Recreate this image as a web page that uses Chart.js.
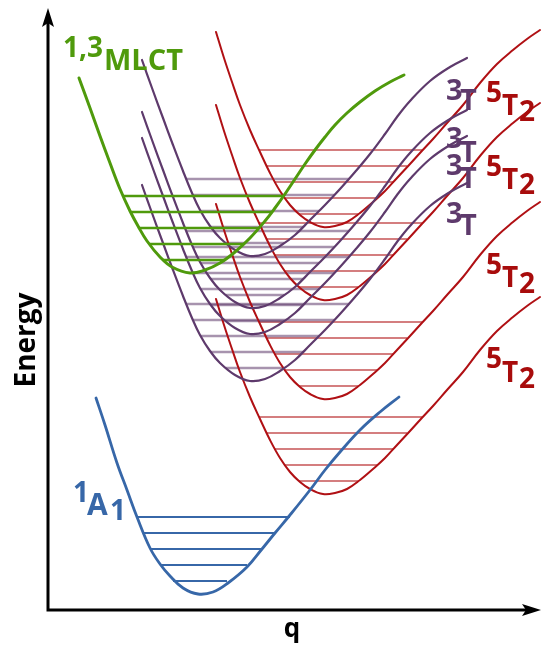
<!DOCTYPE html>
<html>
<head>
<meta charset="utf-8">
<script src="https://cdn.jsdelivr.net/npm/chart.js@4.4.1/dist/chart.umd.min.js"></script>
<style>
  html, body { margin: 0; padding: 0; background: #ffffff; }
  canvas { display: block; }
</style>
</head>
<body>
<canvas id="pes" width="541" height="645"></canvas>
<script>
// Potential energy curves along the coordinate q (arbitrary units).

// Ground state 1A1
const groundQ = [48, 57, 69, 79, 89, 102, 112, 122, 135, 150, 165, 180, 199, 214, 227, 242, 262, 277, 292, 312, 332, 351];
const groundE = [212, 185, 147, 120, 93, 62, 46, 34, 22, 16, 18, 27, 43, 61, 77, 95, 120, 140, 158, 180, 198, 213];
const groundLevelE = [93, 77, 61, 45, 29];
const groundLevelFrom = [89, 95, 102, 112, 125];
const groundLevelTo = [242, 227, 214, 199, 179];

// 1,3MLCT
const mlctQ = [31, 42, 52, 62, 72, 82, 90, 99, 112, 124, 142, 157, 172, 187, 202, 217, 227, 237, 247, 257, 267, 277, 287, 299, 312, 327, 342, 356];
const mlctE = [532, 502, 474, 447, 421, 399, 384, 369, 353, 343, 337, 340, 347, 358, 372, 389, 402, 416, 431, 446, 460, 473, 485, 497, 508, 519, 528, 535];
const mlctLevelE = [414, 398, 382, 366, 350];
const mlctLevelFrom = [75, 83, 91, 101, 115];
const mlctLevelTo = [235, 224, 211, 196, 176];

// 3T states
const tripletQ = [94, 104, 115, 125, 135, 144, 152, 162, 172, 187, 202, 217, 232, 247, 262, 277, 292, 307, 322, 337, 349, 362, 382, 402, 419];
const triplet1E = [550, 522, 492, 465, 439, 417, 400, 384, 372, 360, 354, 356, 364, 375, 390, 405, 421, 438, 456, 476, 493, 509, 529, 543, 552];
const triplet2E = [498, 470, 440, 413, 387, 365, 348, 332, 320, 308, 302, 304, 312, 323, 338, 353, 369, 386, 404, 424, 441, 457, 477, 491, 500];
const triplet3E = [472, 444, 414, 387, 361, 339, 322, 306, 294, 282, 276, 278, 286, 297, 312, 327, 343, 360, 378, 398, 415, 431, 451, 465, 474];
const triplet4E = [425, 397, 367, 340, 314, 292, 275, 259, 247, 235, 229, 231, 239, 250, 265, 280, 296, 313, 331, 351, 368, 384, 404, 418, 427];
const tripletLevelFrom = [138, 145, 153, 163, 178];
const tripletLevelTo = [301, 286, 271, 255, 236];
const triplet1LevelE = [431, 415, 399, 383, 367];
const triplet2LevelE = [379, 363, 347, 331, 315];
const triplet3LevelE = [353, 337, 321, 305, 289];
const triplet4LevelE = [306, 290, 274, 258, 242];

// 5T2 states
const quintetQ = [168, 176, 184, 192, 202, 212, 222, 232, 242, 252, 262, 275, 287, 299, 312, 325, 337, 349, 362, 372, 385, 399, 415, 432, 449, 465, 479, 492];
const quintet1E = [578, 552, 528, 505, 480, 458, 437, 419, 405, 395, 388, 383, 384, 388, 397, 408, 419, 432, 446, 457, 471, 487, 505, 527, 546, 560, 571, 580];
const quintet2E = [505, 479, 455, 432, 407, 385, 364, 346, 332, 322, 315, 310, 311, 315, 324, 335, 346, 359, 373, 384, 398, 414, 432, 454, 473, 487, 498, 507];
const quintet3E = [406, 380, 356, 333, 308, 286, 265, 247, 233, 223, 216, 211, 212, 216, 225, 236, 247, 260, 274, 285, 299, 315, 333, 355, 374, 388, 399, 408];
const quintet4E = [311, 285, 261, 238, 213, 191, 170, 152, 138, 128, 121, 116, 117, 121, 130, 141, 152, 165, 179, 190, 204, 220, 238, 260, 279, 293, 304, 313];
const quintetLevelFrom = [211, 218, 227, 236, 251];
const quintetLevelTo = [374, 359, 345, 329, 311];
const quintet1LevelE = [460, 444, 428, 412, 396];
const quintet2LevelE = [387, 371, 355, 339, 323];
const quintet3LevelE = [288, 272, 256, 240, 224];
const quintet4LevelE = [193, 177, 161, 145, 129];

const BLUE = '#3767a8';
const GREEN = '#4f9a0c';
const RED = '#b01014';
const PURPLE = '#5e3a6c';
const RED_TEXT = '#a80c0c';

function points(qs, es) {
  return qs.map((q, i) => ({ x: q, y: es[i] }));
}

function curve(label, qs, es, color, width, order) {
  return {
    label, data: points(qs, es), borderColor: color, borderWidth: width,
    pointRadius: 0, fill: false, tension: 0.4,
    borderCapStyle: 'round', borderJoinStyle: 'round',
    order, clip: false
  };
}

function levels(label, energies, from, to, color, width, order) {
  return energies.map((e, i) => ({
    label: label + ' v' + i,
    data: [{ x: from[i], y: e }, { x: to[i], y: e }],
    borderColor: color, borderWidth: width, pointRadius: 0,
    fill: false, order, borderCapStyle: 'butt'
  }));
}

const QUINTET_LEVEL = 'rgba(176,16,20,0.72)';
const TRIPLET_LEVEL = 'rgba(94,58,108,0.55)';

const datasets = [
  ...levels('5T2 (1)', quintet1LevelE, quintetLevelFrom, quintetLevelTo, QUINTET_LEVEL, 1.5, 8),
  ...levels('5T2 (2)', quintet2LevelE, quintetLevelFrom, quintetLevelTo, QUINTET_LEVEL, 1.5, 8),
  ...levels('5T2 (3)', quintet3LevelE, quintetLevelFrom, quintetLevelTo, QUINTET_LEVEL, 1.5, 8),
  ...levels('5T2 (4)', quintet4LevelE, quintetLevelFrom, quintetLevelTo, QUINTET_LEVEL, 1.5, 8),
  ...levels('3T (1)', triplet1LevelE, tripletLevelFrom, tripletLevelTo, TRIPLET_LEVEL, 2.5, 7),
  ...levels('3T (2)', triplet2LevelE, tripletLevelFrom, tripletLevelTo, TRIPLET_LEVEL, 2.5, 7),
  ...levels('3T (3)', triplet3LevelE, tripletLevelFrom, tripletLevelTo, TRIPLET_LEVEL, 2.5, 7),
  ...levels('3T (4)', triplet4LevelE, tripletLevelFrom, tripletLevelTo, TRIPLET_LEVEL, 2.5, 7),
  curve('5T2 (1)', quintetQ, quintet1E, RED, 2, 6),
  curve('5T2 (2)', quintetQ, quintet2E, RED, 2, 6),
  curve('5T2 (3)', quintetQ, quintet3E, RED, 2, 6),
  curve('5T2 (4)', quintetQ, quintet4E, RED, 2, 6),
  curve('3T (1)', tripletQ, triplet1E, PURPLE, 2.2, 5),
  curve('3T (2)', tripletQ, triplet2E, PURPLE, 2.2, 5),
  curve('3T (3)', tripletQ, triplet3E, PURPLE, 2.2, 5),
  curve('3T (4)', tripletQ, triplet4E, PURPLE, 2.2, 5),
  ...levels('1,3MLCT', mlctLevelE, mlctLevelFrom, mlctLevelTo, GREEN, 2.5, 3),
  curve('1,3MLCT', mlctQ, mlctE, GREEN, 3, 2),
  ...levels('1A1', groundLevelE, groundLevelFrom, groundLevelTo, BLUE, 2, 1),
  curve('1A1', groundQ, groundE, BLUE, 2.8, 0)
];

const FONT = '"Open Sans", "DejaVu Sans", sans-serif';

// State labels: [text, x, baseline, size, colour]
const stateLabels = [
  ['1,3', 63, 57, 28, GREEN], ['MLCT', 104, 70, 29, GREEN],
  ['1', 73, 502, 28, BLUE], ['A', 87, 515, 30, BLUE], ['1', 110, 520, 28, BLUE],
  ['3', 446, 100, 29, PURPLE], ['T', 460, 110, 29, PURPLE],
  ['3', 446, 148, 29, PURPLE], ['T', 460, 162, 29, PURPLE],
  ['3', 446, 175, 29, PURPLE], ['T', 460, 188, 29, PURPLE],
  ['3', 446, 223, 29, PURPLE], ['T', 460, 235, 29, PURPLE],
  ['5', 486, 102, 28, RED_TEXT], ['T', 502, 115, 28, RED_TEXT], ['2', 519, 121, 28, RED_TEXT],
  ['5', 486, 176, 28, RED_TEXT], ['T', 502, 189, 28, RED_TEXT], ['2', 519, 194, 28, RED_TEXT],
  ['5', 486, 274, 28, RED_TEXT], ['T', 502, 287, 28, RED_TEXT], ['2', 519, 293, 28, RED_TEXT],
  ['5', 486, 368, 28, RED_TEXT], ['T', 502, 382, 28, RED_TEXT], ['2', 519, 388, 28, RED_TEXT]
];

const axesAndLabels = {
  id: 'axesAndLabels',
  afterDatasetsDraw(chart) {
    const { ctx, chartArea: a } = chart;
    ctx.save();
    // axes with arrow heads
    ctx.strokeStyle = '#000';
    ctx.fillStyle = '#000';
    ctx.lineWidth = 3;
    ctx.lineCap = 'butt';
    ctx.beginPath();
    ctx.moveTo(a.left, a.bottom + 1.5);
    ctx.lineTo(a.left, a.top + 12);
    ctx.moveTo(a.left - 1.5, a.bottom);
    ctx.lineTo(a.right - 12, a.bottom);
    ctx.stroke();
    ctx.beginPath();
    ctx.moveTo(a.left, a.top - 2);
    ctx.lineTo(a.left + 6, a.top + 17);
    ctx.lineTo(a.left, a.top + 13);
    ctx.lineTo(a.left - 6, a.top + 17);
    ctx.closePath();
    ctx.fill();
    ctx.beginPath();
    ctx.moveTo(a.right + 1, a.bottom);
    ctx.lineTo(a.right - 18, a.bottom - 6);
    ctx.lineTo(a.right - 14, a.bottom);
    ctx.lineTo(a.right - 18, a.bottom + 6);
    ctx.closePath();
    ctx.fill();

    // axis titles
    ctx.textAlign = 'center';
    ctx.textBaseline = 'alphabetic';
    ctx.font = 'bold 26px ' + FONT;
    ctx.fillText('q', 292, 637);
    ctx.save();
    ctx.translate(35, 340);
    ctx.rotate(-Math.PI / 2);
    ctx.font = 'bold 28px ' + FONT;
    ctx.fillText('Energy', 0, 0);
    ctx.restore();

    // state labels
    ctx.textAlign = 'left';
    for (const [t, x, y, s, c] of stateLabels) {
      ctx.font = 'bold ' + s + 'px ' + FONT;
      ctx.fillStyle = c;
      ctx.fillText(t, x, y);
    }
    ctx.restore();
  }
};

new Chart(document.getElementById('pes'), {
  type: 'line',
  data: { datasets },
  options: {
    responsive: false,
    animation: false,
    devicePixelRatio: 1,
    events: [],
    layout: { padding: { left: 48, right: 1, top: 10, bottom: 35 } },
    scales: {
      x: { type: 'linear', min: 0, max: 492, display: false },
      y: { type: 'linear', min: 0, max: 600, display: false }
    },
    plugins: { legend: { display: false }, tooltip: { enabled: false } }
  },
  plugins: [axesAndLabels]
});
</script>
</body>
</html>
